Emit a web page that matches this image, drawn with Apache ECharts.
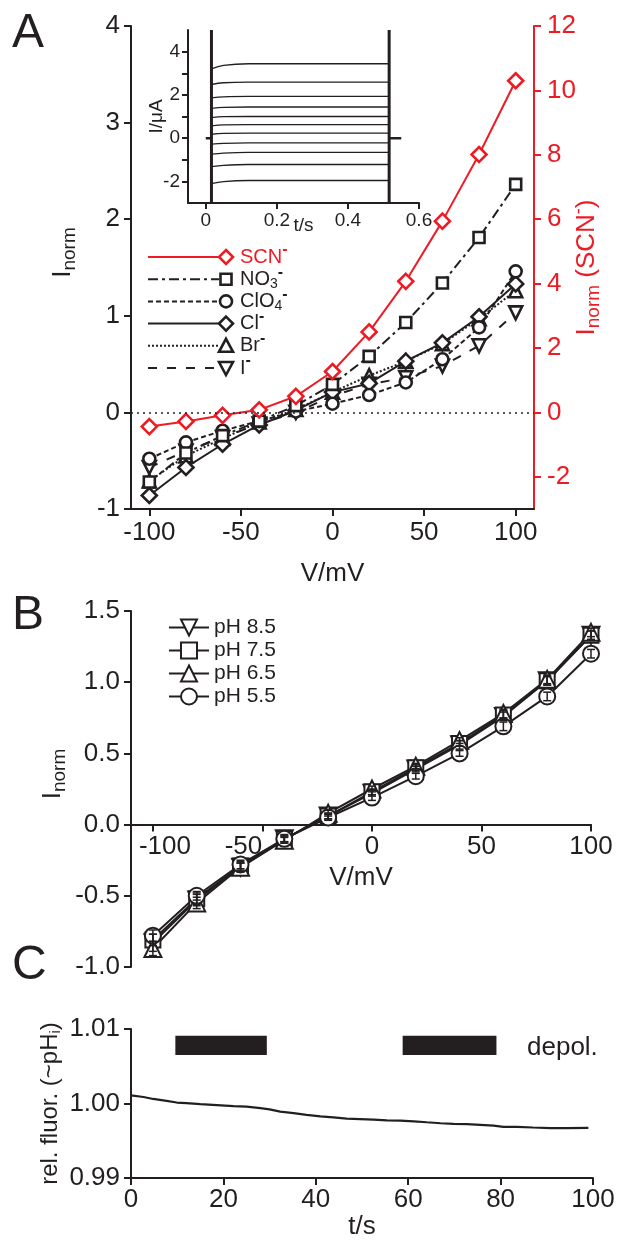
<!DOCTYPE html>
<html><head><meta charset="utf-8">
<script src="https://cdn.jsdelivr.net/npm/echarts@6/dist/echarts.min.js"></script>
<style>html,body{margin:0;padding:0;background:#fff}#c{width:620px;height:1241px}</style>
</head><body><div id="c"></div>
<script>
// ---------- Panel A data ----------
const voltages = [-100, -80, -60, -40, -20, 0, 20, 40, 60, 80, 100];
const scnValues  = [-0.44, -0.28, -0.09, 0.08, 0.50, 1.27, 2.50, 4.07, 5.94, 8.01, 10.3];
const no3Values  = [-0.72, -0.42, -0.24, -0.09, 0.07, 0.29, 0.58, 0.93, 1.34, 1.81, 2.36];
const clo4Values = [-0.48, -0.31, -0.19, -0.09, 0.01, 0.09, 0.18, 0.31, 0.55, 0.88, 1.46];
const clValues   = [-0.86, -0.57, -0.33, -0.13, 0.02, 0.21, 0.30, 0.53, 0.72, 0.99, 1.33];
const brValues   = [-0.71, -0.45, -0.27, -0.10, 0.03, 0.21, 0.38, 0.53, 0.71, 0.97, 1.26];
const iValues    = [-0.57, -0.40, -0.26, -0.12, 0.00, 0.17, 0.29, 0.36, 0.48, 0.69, 1.03];
const ticksAx = [-100, -50, 0, 50, 100];
const ticksAyRight = [-2, 0, 2, 4, 6, 8, 10, 12];

// ---------- Inset data ----------
const insetLevels = [3.44, 2.59, 1.93, 1.44, 1.00, 0.62, 0.23, -0.22, -0.66, -1.22, -1.96];
const insetStarts = [3.20, 2.48, 1.86, 1.38, 0.95, 0.57, 0.18, -0.28, -0.74, -1.32, -2.10];
const insetMid    = [3.36, 2.56, 1.91, 1.42, 0.99, 0.61, 0.22, -0.24, -0.69, -1.26, -2.01];
const insetStepOn = 0.016, insetMidT = 0.05, insetSettled = 0.12, insetStepOff = 0.516;
const insetHold = [[0.0, 0.016], [0.516, 0.55]];
const insetSpikeRange = [-3, 5];
const insetXTicks = [0, 0.2, 0.4, 0.6];
const insetYTicks = [-2, -1, 0, 1, 2, 3, 4];
const insetYLabels = [-2, 0, 2, 4];

// ---------- Panel B data ----------
const ph85 = [-0.83, -0.53, -0.30, -0.10, 0.06, 0.22, 0.39, 0.56, 0.76, 1.01, 1.33];
const ph75 = [-0.81, -0.52, -0.29, -0.10, 0.06, 0.23, 0.40, 0.57, 0.77, 1.01, 1.33];
const ph65 = [-0.87, -0.55, -0.30, -0.11, 0.08, 0.25, 0.41, 0.59, 0.78, 1.02, 1.35];
const ph55 = [-0.78, -0.50, -0.28, -0.10, 0.05, 0.19, 0.34, 0.50, 0.69, 0.90, 1.20];
const ph85Err = [0.06, 0.04, 0.03, 0.03, 0.02, 0.02, 0.02, 0.03, 0.03, 0.03, 0.03];
const ph75Err = [0.04, 0.04, 0.03, 0.02, 0.02, 0.02, 0.02, 0.02, 0.03, 0.03, 0.03];
const ph65Err = [0.05, 0.04, 0.03, 0.02, 0.02, 0.02, 0.02, 0.02, 0.03, 0.03, 0.03];
const ph55Err = [0.04, 0.03, 0.03, 0.02, 0.02, 0.02, 0.02, 0.02, 0.03, 0.03, 0.03];
const ticksBx = [-100, -50, 0, 50, 100];

// ---------- Panel C data ----------
const fluorTimes  = [0, 2.7, 4.8, 7.7, 9.9, 12, 15, 18.6, 22.2, 25, 28, 30, 32.3, 35.2, 38, 41, 43.8, 46.7, 49.6, 52.5, 55.4, 58.3, 61.2, 64, 67, 69.8, 72.7, 75.6, 78.5, 80.6, 83.5, 87, 90.8, 94.4, 99];
const fluorValues = [1.00109, 1.00087, 1.00061, 1.00035, 1.00013, 1.00004, 0.99991, 0.99978, 0.99965, 0.99957, 0.99939, 0.99922, 0.99891, 0.99870, 0.99848, 0.99826, 0.99813, 0.99796, 0.99791, 0.99783, 0.99774, 0.99770, 0.99761, 0.99748, 0.99735, 0.99726, 0.99722, 0.99713, 0.99704, 0.99687, 0.99687, 0.99678, 0.99670, 0.99670, 0.99674];
const depolStarts = [9.6, 58.8];
const depolEnds   = [29.4, 79.1];
const depolLow = 1.0065, depolHigh = 1.0091;

// ---------- styling ----------
const BLACK = '#231f20', RED = '#ed1c24';
const FONT = '"Liberation Sans", Arial, Helvetica, sans-serif';
const FS = 26;

function axisBase(color, fs) {
  return {
    nameMoveOverlap: false,
    axisLine: { show: true, onZero: false, lineStyle: { color: color, width: 2 } },
    axisTick: { show: true, inside: false, length: 7, lineStyle: { color: color, width: 2 } },
    axisLabel: { color: color, fontSize: fs || FS, fontFamily: FONT, margin: 11 },
    splitLine: { show: false },
    nameTextStyle: { color: color, fontSize: fs || FS, fontFamily: FONT }
  };
}
function merge(a, b) {
  const o = Object.assign({}, a);
  for (const k in b) {
    if (b[k] && typeof b[k] === 'object' && !Array.isArray(b[k]) && a[k] && typeof a[k] === 'object') o[k] = merge(a[k], b[k]);
    else o[k] = b[k];
  }
  return o;
}
const pairs = (xs, ys) => xs.map((x, i) => [x, ys[i]]);
const openSym = (c, w) => ({ color: '#fff', borderColor: c, borderWidth: w || 2.5 });

const inormRich = {
  i: { fontSize: FS, fontFamily: FONT, color: BLACK },
  s: { fontSize: 19, fontFamily: FONT, color: BLACK, padding: [14, 0, 0, 0] }
};

// B grid geometry (used to shift its x axis onto the zero line)
const gridB = { left: 131, top: 611, width: 460, height: 356 };
const bYMin = -1, bYMax = 1.5;
const bZeroOffset = -gridB.height * (0 - bYMin) / (bYMax - bYMin);

// ---------- axes ----------
const xAxes = [
  merge(axisBase(BLACK), { gridIndex: 0, type: 'value', min: -110, max: 110,
    axisTick: { customValues: ticksAx }, axisLabel: { customValues: ticksAx },
    name: 'V/mV', nameLocation: 'middle', nameGap: 52 }),
  merge(axisBase(BLACK, 19), { gridIndex: 1, type: 'value', min: -0.05, max: 0.6,
    axisTick: { customValues: insetXTicks, length: 6 },
    axisLabel: { customValues: insetXTicks, margin: 8, formatter: v => v === 0 ? '0' : v.toFixed(1) },
    name: 't/s', nameLocation: 'middle', nameGap: 13 }),
  merge(axisBase(BLACK), { gridIndex: 2, type: 'value', min: -110, max: 100, offset: bZeroOffset,
    axisTick: { customValues: ticksBx },
    axisLabel: { customValues: ticksBx, margin: 9,
      formatter: v => v === -100 ? '{r|-100}' : (v === -50 ? '{l|-50}' : String(v)),
      rich: {
        r: { fontSize: FS, fontFamily: FONT, color: BLACK, padding: [0, 0, 0, 24] },
        l: { fontSize: FS, fontFamily: FONT, color: BLACK, padding: [0, 38, 0, 0] }
      } },
    name: 'V/mV', nameLocation: 'middle', nameGap: 40 }),
  merge(axisBase(BLACK), { gridIndex: 3, type: 'value', min: 0, max: 100, interval: 20,
    axisLabel: { margin: 9 },
    name: 't/s', nameLocation: 'middle', nameGap: 36 })
];
const yAxes = [
  merge(axisBase(BLACK), { gridIndex: 0, type: 'value', min: -1, max: 4, interval: 1,
    name: '{i|I}{s|norm}', nameLocation: 'middle', nameGap: 52, nameRotate: 90,
    nameTextStyle: { rich: inormRich, padding: [0, 0, 0, 30] } }),
  merge(axisBase(RED), { gridIndex: 0, type: 'value', position: 'right', min: -3, max: 12,
    axisTick: { customValues: ticksAyRight }, axisLabel: { customValues: ticksAyRight, margin: 13 },
    name: '{i|I}{s|norm}{t| (SCN}{p|-}{t|)}', nameLocation: 'middle', nameGap: 36, nameRotate: 90,
    nameTextStyle: { rich: {
      i: { fontSize: FS, fontFamily: FONT, color: RED },
      s: { fontSize: 19, fontFamily: FONT, color: RED, padding: [14, 0, 0, 0] },
      t: { fontSize: FS, fontFamily: FONT, color: RED },
      p: { fontSize: 18, fontFamily: FONT, color: RED, padding: [0, 0, 14, 0] }
    } } }),
  merge(axisBase(BLACK, 19), { gridIndex: 1, type: 'value', min: -3, max: 5,
    axisTick: { customValues: insetYTicks, length: 6 },
    axisLabel: { customValues: insetYLabels, margin: 8 },
    name: 'I/μA', nameLocation: 'middle', nameGap: 22, nameRotate: 90 }),
  merge(axisBase(BLACK), { gridIndex: 2, type: 'value', min: bYMin, max: bYMax, interval: 0.5,
    axisLabel: { formatter: v => v.toFixed(1) },
    name: '{i|I}{s|norm}', nameLocation: 'middle', nameGap: 62, nameRotate: 90,
    nameTextStyle: { rich: inormRich, padding: [0, 0, 0, 30] } }),
  merge(axisBase(BLACK), { gridIndex: 3, type: 'value', min: 0.99, max: 1.01, interval: 0.01,
    axisLabel: { formatter: v => v.toFixed(2) },
    name: '{t|rel. fluor. (~pH}{s|i}{t|)}', nameLocation: 'middle', nameGap: 68, nameRotate: 90,
    nameTextStyle: { rich: {
      t: { fontSize: 24, fontFamily: FONT, color: BLACK },
      s: { fontSize: 15, fontFamily: FONT, color: BLACK, padding: [10, 0, 0, 0] }
    } } })
];

// ---------- series ----------
const series = [];
function ivSeries(name, vals, symbol, size, dash, rotate, yIdx, color) {
  return {
    name: name, type: 'line', xAxisIndex: 0, yAxisIndex: yIdx || 0,
    data: pairs(voltages, vals), symbol: symbol, symbolSize: size, symbolRotate: rotate || 0,
    color: color || BLACK,
    lineStyle: { color: color || BLACK, width: 2, type: dash },
    itemStyle: openSym(color || BLACK, 2.6), z: 3
  };
}
const sCl = ivSeries('Cl', clValues, 'diamond', 15, 'solid');
sCl.markLine = { silent: true, symbol: 'none', label: { show: false },
  lineStyle: { type: [2, 4], color: BLACK, width: 1.5 }, data: [{ yAxis: 0 }] };
series.push(ivSeries('I', iValues, 'triangle', 13, [9, 10], 180));
series.push(ivSeries('Br', brValues, 'triangle', 13, [2, 2]));
series.push(sCl);
series.push(ivSeries('ClO4', clo4Values, 'circle', 12, [5, 3]));
series.push(ivSeries('NO3', no3Values, 'rect', 11, [10, 4, 3, 4]));
series.push(ivSeries('SCN', scnValues, 'diamond', 15, 'solid', 0, 1, RED));

// inset traces
insetLevels.forEach((lv, i) => {
  series.push({ type: 'line', xAxisIndex: 1, yAxisIndex: 2, symbol: 'none', silent: true, smooth: 0.4,
    data: [[insetStepOn, insetStarts[i]], [insetMidT, insetMid[i]], [insetSettled, lv], [insetStepOff, lv]],
    lineStyle: { color: BLACK, width: 1.3 }, z: 2 });
});
insetHold.forEach(h => {
  series.push({ type: 'line', xAxisIndex: 1, yAxisIndex: 2, symbol: 'none', silent: true,
    data: [[h[0], 0], [h[1], 0]], lineStyle: { color: BLACK, width: 2.5 }, z: 2 });
});
[insetStepOn, insetStepOff].forEach(t => {
  series.push({ type: 'line', xAxisIndex: 1, yAxisIndex: 2, symbol: 'none', silent: true,
    data: [[t, insetSpikeRange[0]], [t, insetSpikeRange[1]]], lineStyle: { color: BLACK, width: 3 }, z: 2 });
});

// panel B
const bDefs = [
  ['pH 8.5', ph85, ph85Err, 'triangle', 17, 180],
  ['pH 7.5', ph75, ph75Err, 'rect', 15, 0],
  ['pH 6.5', ph65, ph65Err, 'triangle', 17, 0],
  ['pH 5.5', ph55, ph55Err, 'circle', 16, 0]
];
bDefs.forEach(d => {
  series.push({ name: d[0], type: 'line', xAxisIndex: 2, yAxisIndex: 3,
    data: pairs(voltages, d[1]), symbol: d[3], symbolSize: d[4], symbolRotate: d[5],
    color: BLACK, lineStyle: { color: BLACK, width: 2 }, itemStyle: openSym(BLACK, 2), z: 3 });
});
function errRender(params, api) {
  const x = api.value(0), y = api.value(1), e = api.value(2);
  const t = api.coord([x, y + e]), b = api.coord([x, y - e]);
  const w = 4, st = { stroke: BLACK, lineWidth: 1.5 };
  return { type: 'group', children: [
    { type: 'line', shape: { x1: t[0], y1: t[1], x2: b[0], y2: b[1] }, style: st },
    { type: 'line', shape: { x1: t[0] - w, y1: t[1], x2: t[0] + w, y2: t[1] }, style: st },
    { type: 'line', shape: { x1: b[0] - w, y1: b[1], x2: b[0] + w, y2: b[1] }, style: st }
  ] };
}
bDefs.forEach(d => {
  series.push({ type: 'custom', xAxisIndex: 2, yAxisIndex: 3, silent: true, z: 4,
    renderItem: errRender, encode: { x: 0, y: 1 },
    data: voltages.map((v, i) => [v, d[1][i], d[2][i]]) });
});

// panel C
series.push({ type: 'line', xAxisIndex: 3, yAxisIndex: 4, symbol: 'none', silent: true,
  data: pairs(fluorTimes, fluorValues), lineStyle: { color: BLACK, width: 2.2 } });
series.push({ type: 'custom', xAxisIndex: 3, yAxisIndex: 4, silent: true,
  encode: { x: [0, 1], y: [2, 3] },
  data: depolStarts.map((s, i) => [s, depolEnds[i], depolLow, depolHigh]),
  renderItem: (params, api) => {
    const p1 = api.coord([api.value(0), api.value(3)]);
    const p2 = api.coord([api.value(1), api.value(2)]);
    return { type: 'rect', shape: { x: p1[0], y: p1[1], width: p2[0] - p1[0], height: p2[1] - p1[1] },
      style: { fill: BLACK } };
  } });

// ---------- legend A (graphic) ----------
const legendAEntries = [
  { text: '{m|SCN}{p|-}', color: RED, dash: null, sym: 'diamond' },
  { text: '{m|NO}{b|3}{p|-}', color: BLACK, dash: [10, 4, 3, 4], sym: 'rect' },
  { text: '{m|ClO}{b|4}{p|-}', color: BLACK, dash: [5, 3], sym: 'circle' },
  { text: '{m|Cl}{p|-}', color: BLACK, dash: null, sym: 'diamond' },
  { text: '{m|Br}{p|-}', color: BLACK, dash: [2, 2], sym: 'tri' },
  { text: '{m|I}{p|-}', color: BLACK, dash: [9, 10], sym: 'trid' }
];
const graphics = [];
const LX0 = 148, LX1 = 219, LSX = 226, LTX = 240, LY0 = 257, LDY = 22.2;
legendAEntries.forEach((e, i) => {
  const y = LY0 + i * LDY, c = e.color;
  const st = { fill: '#fff', stroke: c, lineWidth: 2.6 };
  graphics.push({ type: 'line', shape: { x1: LX0, y1: y, x2: LX1, y2: y },
    style: { stroke: c, lineWidth: 2, lineDash: e.dash || null } });
  let s;
  if (e.sym === 'diamond') s = { type: 'polygon', shape: { points: [[LSX, y - 7], [LSX + 7, y], [LSX, y + 7], [LSX - 7, y]] }, style: st };
  else if (e.sym === 'rect') s = { type: 'rect', shape: { x: LSX - 5.5, y: y - 5.5, width: 11, height: 11 }, style: st };
  else if (e.sym === 'circle') s = { type: 'circle', shape: { cx: LSX, cy: y, r: 6 }, style: st };
  else if (e.sym === 'tri') s = { type: 'polygon', shape: { points: [[LSX, y - 7], [LSX + 7, y + 6], [LSX - 7, y + 6]] }, style: st };
  else s = { type: 'polygon', shape: { points: [[LSX, y + 7], [LSX + 7, y - 6], [LSX - 7, y - 6]] }, style: st };
  graphics.push(s);
  graphics.push({ type: 'text', x: LTX, y: y, style: { text: e.text, textVerticalAlign: 'middle', fill: c,
    rich: {
      m: { fontSize: 20, fontFamily: FONT, fill: c, color: c },
      b: { fontSize: 14, fontFamily: FONT, fill: c, color: c, padding: [10, 0, 0, 0] },
      p: { fontSize: 16, fontFamily: FONT, fill: c, color: c, padding: [0, 0, 14, 0], fontWeight: 'bold' }
    } } });
});
[['A', 12, 34], ['B', 12, 616], ['C', 12, 966]].forEach(p => {
  graphics.push({ type: 'text', x: p[1], y: p[2], style: { text: p[0], font: '48px ' + FONT, fill: BLACK, textVerticalAlign: 'middle' } });
});
graphics.push({ type: 'text', x: 527, y: 1048, style: { text: 'depol.', font: '26px ' + FONT, fill: BLACK, textVerticalAlign: 'middle' } });

const chart = echarts.init(document.getElementById('c'), null, { renderer: 'canvas', width: 620, height: 1241 });
chart.setOption({
  animation: false,
  backgroundColor: '#fff',
  textStyle: { fontFamily: FONT },
  grid: [
    { left: 131, top: 26, width: 403, height: 483 },
    { left: 188, top: 30, width: 231, height: 173 },
    gridB,
    { left: 131, top: 1029, width: 462, height: 154 }
  ],
  xAxis: xAxes,
  yAxis: yAxes,
  legend: {
    data: ['pH 8.5', 'pH 7.5', 'pH 6.5', 'pH 5.5'],
    orient: 'vertical', left: 163, top: 612, itemWidth: 40, itemHeight: 20, itemGap: 2,
    textStyle: { fontSize: 21, fontFamily: FONT, color: BLACK }, selectedMode: false
  },
  graphic: graphics,
  series: series
});
</script></body></html>
